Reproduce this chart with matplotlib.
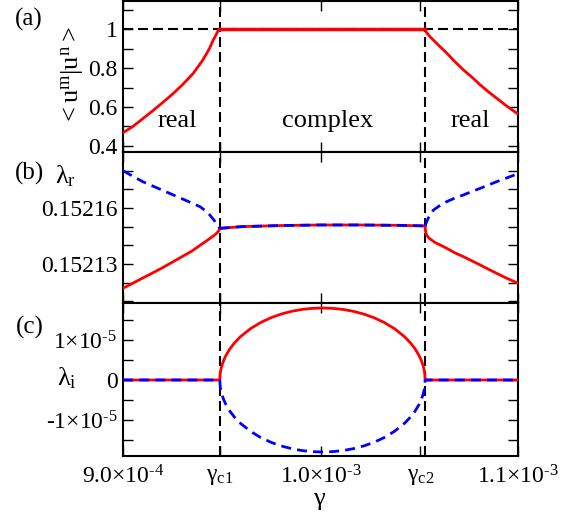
import matplotlib
matplotlib.use('Agg')
import matplotlib.pyplot as plt
from matplotlib.ticker import FixedLocator, FixedFormatter, NullFormatter

plt.rcParams['font.family'] = ['Liberation Serif', 'DejaVu Serif']
plt.rcParams['mathtext.fontset'] = 'custom'
plt.rcParams['mathtext.rm'] = 'Liberation Serif'
plt.rcParams['mathtext.it'] = 'Liberation Serif'
plt.rcParams['mathtext.bf'] = 'Liberation Serif:bold'

# ---------------- data (gamma in units of 1e-4) ----------------
GSCALE = 1e-4
gamma_c1 = 9.49
gamma_c2 = 10.53
xtick_pos = [9.0, 9.49, 10.0, 10.505, 11.0]
xtick_lab = [r'$\mathrm{9.0{\times}10^{\text{-}4}}$', r'$\mathrm{γ_{c1}}$',
             r'$\mathrm{1.0{\times}10^{\text{-}3}}$', r'$\mathrm{γ_{c2}}$',
             r'$\mathrm{1.1{\times}10^{\text{-}3}}$']

# panel (a): overlap <u^m|u^n>
a_left_g = [9.00, 9.05, 9.10, 9.15, 9.20, 9.255, 9.30, 9.356, 9.40, 9.424, 9.44, 9.457, 9.47, 9.483, 9.49]
a_left_v = [0.468, 0.500, 0.540, 0.580, 0.622, 0.670, 0.713, 0.773, 0.835, 0.875, 0.905, 0.944, 0.968, 0.995, 1.0]
a_mid_g = [9.49, 10.53]
a_mid_v = [1.0, 1.0]
a_right_g = [10.53, 10.535, 10.554, 10.58, 10.60, 10.639, 10.68, 10.724, 10.77, 10.808, 10.85, 10.892, 10.94, 10.994, 11.0]
a_right_v = [1.0, 0.985, 0.961, 0.935, 0.915, 0.877, 0.833, 0.790, 0.750, 0.714, 0.678, 0.645, 0.607, 0.568, 0.564]

# panel (b): real part lambda_r
b_blue_left_g = [9.0, 9.05, 9.1, 9.15, 9.2, 9.25, 9.3, 9.35, 9.39, 9.42, 9.44, 9.46, 9.475, 9.485, 9.49]
b_blue_left_v = [0.1521800, 0.1521770, 0.1521741, 0.1521718, 0.1521695, 0.1521672, 0.1521649,
                 0.1521626, 0.1521607, 0.1521583, 0.1521562, 0.1521536, 0.1521514, 0.1521500, 0.1521491]
b_red_left_g = [9.0, 9.05, 9.1, 9.15, 9.2, 9.25, 9.3, 9.35, 9.39, 9.42, 9.44, 9.46, 9.475, 9.485, 9.49]
b_red_left_v = [0.1521170, 0.1521197, 0.1521225, 0.1521252, 0.1521280, 0.1521310, 0.1521340,
                0.1521370, 0.1521400, 0.1521422, 0.1521437, 0.1521452, 0.1521466, 0.1521478, 0.1521491]
b_mid_g = [9.49, 9.6, 9.8, 10.0, 10.2, 10.4, 10.53]
b_mid_v = [0.1521491, 0.1521500, 0.1521506, 0.1521509, 0.1521509, 0.1521507, 0.1521504]
b_blue_right_g = [10.53, 10.535, 10.545, 10.56, 10.572, 10.6, 10.639, 10.68, 10.724, 10.77,
                  10.808, 10.85, 10.892, 10.94, 11.0]
b_blue_right_v = [0.1521504, 0.1521520, 0.1521545, 0.1521570, 0.1521589, 0.1521610, 0.1521634,
                  0.1521653, 0.1521670, 0.1521690, 0.1521705, 0.1521723, 0.1521741, 0.1521760, 0.1521784]
b_red_right_g = [10.53, 10.531, 10.537, 10.55, 10.58, 10.61, 10.639, 10.68, 10.724, 10.77,
                 10.808, 10.85, 10.892, 10.94, 11.0]
b_red_right_v = [0.1521504, 0.1521480, 0.1521455, 0.1521438, 0.1521415, 0.1521400, 0.1521384,
                 0.1521360, 0.1521339, 0.1521315, 0.1521295, 0.1521272, 0.1521250, 0.1521225, 0.1521197]

# panel (c): imaginary part lambda_i (units of 1e-5)
ISCALE = 1e-5
c_g = [9.0, 9.49, 9.4921, 9.4952, 9.5004, 9.5108, 9.5212, 9.542, 9.5628, 9.594, 9.646, 9.698,
       9.75, 9.802, 9.854, 9.906, 9.958, 10.01, 10.062, 10.114, 10.166, 10.218, 10.27, 10.322,
       10.374, 10.426, 10.4572, 10.478, 10.4988, 10.5092, 10.5196, 10.5248, 10.5279, 10.53, 11.0]
c_red = [0, 0, 0.161, 0.254, 0.358, 0.504, 0.614, 0.785, 0.918, 1.080, 1.285, 1.440,
         1.559, 1.650, 1.717, 1.764, 1.791, 1.800, 1.791, 1.764, 1.717, 1.650, 1.559, 1.440,
         1.285, 1.080, 0.918, 0.785, 0.614, 0.504, 0.358, 0.254, 0.161, 0, 0]
c_blue = [0, 0, -0.161, -0.254, -0.358, -0.504, -0.614, -0.785, -0.918, -1.080, -1.285, -1.440,
          -1.559, -1.650, -1.717, -1.764, -1.791, -1.800, -1.791, -1.764, -1.717, -1.650, -1.559, -1.440,
          -1.285, -1.080, -0.918, -0.785, -0.614, -0.504, -0.358, -0.254, -0.161, 0, 0]

# ---------------- figure ----------------
W, H = 576, 519
fig = plt.figure(figsize=(W / 100, H / 100), dpi=100)

def axrect(top, bottom, left=123, right=518):
    return [left / W, 1 - bottom / H, (right - left) / W, (bottom - top) / H]

axa = fig.add_axes(axrect(1, 152))
axb = fig.add_axes(axrect(152, 303))
axc = fig.add_axes(axrect(303, 456))

RED = '#ff0000'
BLUE = '#0000ff'
LW = 2.0
BDASH = (3.6, 2.2)
KDASH = (4.8, 2.4)

def g(lst):
    return [v * GSCALE for v in lst]

def style(ax):
    ax.set_xlim(9.0 * GSCALE, 11.0 * GSCALE)
    for s in ax.spines.values():
        s.set_linewidth(1.5)
    ax.xaxis.set_major_locator(FixedLocator(g(xtick_pos)))
    ax.tick_params(which='both', direction='in', top=True, right=True,
                   length=7, width=1.0, labelsize=17, pad=4)
    ax.tick_params(axis='x', pad=7)
    for x in (gamma_c1, gamma_c2):
        ax.axvline(x * GSCALE, color='k', lw=1.5, dashes=KDASH, zorder=1)

for ax in (axa, axb, axc):
    style(ax)

# (a)
axa.axhline(1.0, color='k', lw=1.5, dashes=KDASH, zorder=1)
axa.plot(g(a_left_g), a_left_v, color=RED, lw=LW, zorder=3)
axa.plot(g(a_mid_g), a_mid_v, color=RED, lw=LW + 0.5, zorder=3)
axa.plot(g(a_right_g), a_right_v, color=RED, lw=LW, zorder=3)
axa.set_ylim(0.369, 1.144)
axa.yaxis.set_major_locator(FixedLocator([0.4, 0.6, 0.8, 1.0]))
axa.yaxis.set_major_formatter(FixedFormatter(['0.4', '0.6', '0.8', '1']))
axa.yaxis.set_minor_locator(FixedLocator([0.5, 0.7, 0.9, 1.1]))
axa.xaxis.set_major_formatter(NullFormatter())

# labels
def ftext(x, y, s, **kw):
    fig.text(x / W, 1 - y / H, s, **kw)

ftext(177, 121, 'real', fontsize=19, ha='center', va='center')
ftext(328, 121, 'complex', fontsize=19, ha='center', va='center')
ftext(470, 121, 'real', fontsize=19, ha='center', va='center')

# (b)
axb.plot(g(b_red_left_g), b_red_left_v, color=RED, lw=LW, zorder=3)
axb.plot(g(b_mid_g), b_mid_v, color=RED, lw=LW, zorder=3)
axb.plot(g(b_red_right_g), b_red_right_v, color=RED, lw=LW, zorder=3)
axb.plot(g(b_blue_left_g), b_blue_left_v, color=BLUE, lw=LW, dashes=BDASH, zorder=4)
axb.plot(g(b_mid_g), b_mid_v, color=BLUE, lw=LW, dashes=BDASH, zorder=4)
axb.plot(g(b_blue_right_g), b_blue_right_v, color=BLUE, lw=LW, dashes=BDASH, zorder=4)
axb.set_ylim(0.1521091, 0.15219)
axb.yaxis.set_major_locator(FixedLocator([0.15213, 0.15216]))
axb.yaxis.set_major_formatter(FixedFormatter(['0.15213', '0.15216']))
axb.yaxis.set_minor_locator(FixedLocator([0.15211, 0.15212, 0.15214, 0.15215, 0.15217, 0.15218]))
axb.xaxis.set_major_formatter(NullFormatter())

# (c)
axc.plot(g(c_g), [v * ISCALE for v in c_red], color=RED, lw=LW, zorder=3)
axc.plot(g(c_g), [v * ISCALE for v in c_blue], color=BLUE, lw=LW, dashes=BDASH, zorder=4)
axc.set_ylim(-1.9e-5, 1.925e-5)
axc.yaxis.set_major_locator(FixedLocator([-1e-5, 0, 1e-5]))
axc.yaxis.set_major_formatter(FixedFormatter([r'$\mathrm{\text{-}1{\times}10^{\text{-}5}}$', '0',
                                              r'$\mathrm{1{\times}10^{\text{-}5}}$']))
axc.yaxis.set_minor_locator(FixedLocator([-1.5e-5, -0.5e-5, 0.5e-5, 1.5e-5]))
axc.xaxis.set_major_formatter(FixedFormatter(xtick_lab))

ftext(29, 19, '(a)', fontsize=18, ha='center', va='center')
ftext(30, 173, '(b)', fontsize=18, ha='center', va='center')
ftext(30, 327, '(c)', fontsize=18, ha='center', va='center')
ftext(55, 183, r'$\mathrm{λ_r}$', fontsize=19, ha='left', va='baseline')
ftext(57, 385, r'$\mathrm{λ_i}$', fontsize=19, ha='left', va='baseline')
ftext(79, 76, r'$\mathrm{<u^{m}|u^{n}>}$', fontsize=19, ha='center', va='baseline',
      rotation=90, rotation_mode='anchor')
ftext(320, 501, r'$\mathrm{γ}$', fontsize=19, ha='center', va='center')

fig.savefig('out.png', dpi=100)
